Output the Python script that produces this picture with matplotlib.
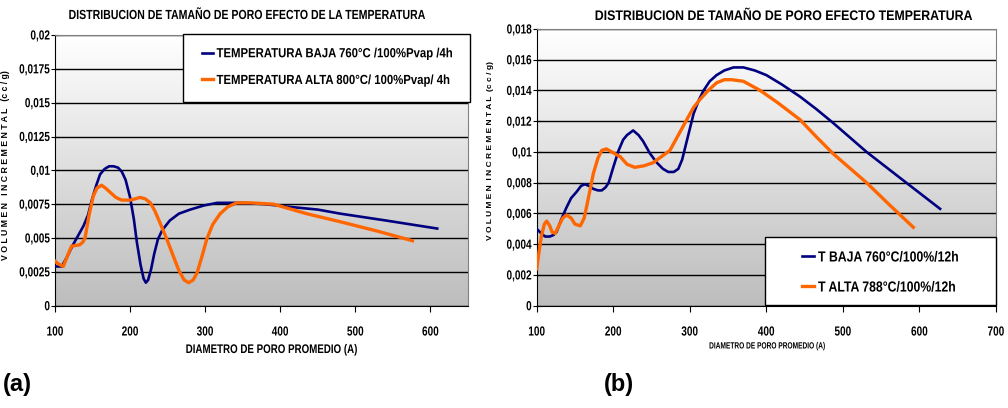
import matplotlib
matplotlib.use("Agg")
import matplotlib.pyplot as plt
import numpy as np
from matplotlib.colors import LinearSegmentedColormap
from matplotlib.ticker import FuncFormatter
from matplotlib.patheffects import AbstractPathEffect
from matplotlib.transforms import Affine2D
from matplotlib.patches import Rectangle

plt.rcParams["font.family"] = ["Liberation Sans", "DejaVu Sans"]
plt.rcParams["font.weight"] = "bold"

# panel (a): 4h
a_baja_x = [100, 109, 116, 124, 131, 138, 144, 149, 155, 160, 166, 172, 178, 184, 189, 194, 200,
            205, 209, 214, 218, 221, 224, 228, 232, 237, 243, 253, 265, 280, 298, 316, 347, 380,
            413, 450, 480, 540, 609]
a_baja_y = [0.0029, 0.0029, 0.0036, 0.0045, 0.0052, 0.0059, 0.0067, 0.0078, 0.0089, 0.0097,
            0.0101, 0.0103, 0.0103, 0.0102, 0.0099, 0.0093, 0.0080, 0.0064, 0.0047, 0.0030,
            0.0020, 0.0017, 0.0019, 0.0027, 0.0038, 0.0049, 0.0056, 0.0063, 0.0068, 0.0071,
            0.0074, 0.0076, 0.0076, 0.0075, 0.0073, 0.0071, 0.0068, 0.0063, 0.0057]
a_alta_x = [100, 104, 111, 116, 122, 133, 137, 140, 145, 151, 156, 162, 167, 173, 181, 189, 200,
            207, 213, 220, 227, 233, 240, 249, 258, 265, 272, 278, 284, 289, 295, 302, 310, 320,
            330, 342, 360, 391, 435, 480, 530, 576]
a_alta_y = [0.0033, 0.0031, 0.0029, 0.0036, 0.0044, 0.0045, 0.0047, 0.0050, 0.0066, 0.0081,
            0.0087, 0.0089, 0.0087, 0.0084, 0.0080, 0.0078, 0.0078, 0.0079, 0.0080, 0.0079,
            0.0076, 0.0070, 0.0061, 0.0049, 0.0036, 0.0026, 0.0019, 0.0017, 0.0019, 0.0024,
            0.0035, 0.0049, 0.0060, 0.0068, 0.0073, 0.0076, 0.0076, 0.0075, 0.0068, 0.0062,
            0.0055, 0.0048]

# panel (b): 12h
b_baja_x = [100, 106, 111, 117, 122, 126, 132, 139, 145, 152, 158, 163, 168, 174, 180, 185, 190,
            194, 200, 207, 213, 218, 226, 233, 239, 248, 257, 265, 272, 279, 285, 290, 294, 300,
            305, 312, 318, 326, 335, 345, 357, 370, 385, 400, 420, 444, 465, 487, 531, 575, 627]
b_baja_y = [0.0050, 0.0047, 0.0045, 0.0045, 0.0046, 0.0048, 0.0056, 0.0064, 0.0070, 0.0074,
            0.0078, 0.0079, 0.0078, 0.0076, 0.0075, 0.0075, 0.0077, 0.0080, 0.0090, 0.0101,
            0.0108, 0.0111, 0.0114, 0.0111, 0.0107, 0.0099, 0.0093, 0.0089, 0.0087, 0.0087,
            0.0089, 0.0095, 0.0103, 0.0115, 0.0125, 0.0134, 0.0140, 0.0146, 0.0150, 0.0153,
            0.0155, 0.0155, 0.0153, 0.0150, 0.0144, 0.0136, 0.0128, 0.0119, 0.0100, 0.0083,
            0.0063]
b_alta_x = [100, 103, 106, 110, 113, 117, 120, 124, 130, 134, 139, 145, 150, 157, 162, 165, 170,
            174, 180, 185, 191, 198, 209, 218, 228, 240, 252, 263, 274, 285, 296, 305, 313, 324,
            335, 345, 355, 370, 392, 415, 444, 465, 487, 531, 560, 592]
b_alta_y = [0.0024, 0.0035, 0.0045, 0.0053, 0.0055, 0.0052, 0.0048, 0.0047, 0.0053, 0.0057,
            0.0059, 0.0057, 0.0053, 0.0052, 0.0057, 0.0064, 0.0076, 0.0086, 0.0096, 0.0101,
            0.0102, 0.0100, 0.0097, 0.0092, 0.0090, 0.0091, 0.0093, 0.0097, 0.0101, 0.0111,
            0.0121, 0.0129, 0.0134, 0.0140, 0.0145, 0.0147, 0.0147, 0.0146, 0.0140, 0.0132,
            0.0121, 0.0110, 0.0099, 0.0080, 0.0066, 0.0051]

NAVY = "#000080"
ORANGE = "#ff6600"
grad = LinearSegmentedColormap.from_list("g", ["#bdbdbd", "#ffffff"])
W, H = 1008, 408


class Condense(AbstractPathEffect):
    # squeeze text horizontally, like the narrow font of the original
    def __init__(self, sx, anchor="center"):
        super().__init__()
        self.sx = sx
        self.anchor = anchor

    def draw_path(self, renderer, gc, tpath, affine, rgbFace=None):
        ext = tpath.get_extents(affine)
        x0 = {"center": (ext.x0 + ext.x1) / 2, "left": ext.x0, "right": ext.x1}[self.anchor]
        t = affine + Affine2D().translate(-x0, 0).scale(self.sx, 1).translate(x0, 0)
        renderer.draw_path(gc, tpath, t, rgbFace)


def comma(v, pos):
    return f"{v:g}".replace(".", ",")


def setup(ax, xmax, xlast, ymax, ystep):
    ax.imshow(np.linspace(0, 1, 256).reshape(-1, 1), extent=[0, 1, 0, 1], transform=ax.transAxes,
              cmap=grad, aspect="auto", origin="lower", zorder=0)
    ax.set_xlim(100, xmax)
    ax.set_ylim(0, ymax)
    ax.set_xticks(range(100, xlast + 1, 100))
    ax.set_yticks(np.arange(0, ymax + ystep / 2, ystep))
    ax.yaxis.set_major_formatter(FuncFormatter(comma))
    ax.grid(axis="y", color="black", linewidth=1.0, zorder=1)
    ax.set_axisbelow(True)
    for s in ["top", "right"]:
        ax.spines[s].set_color("#808080")
    ax.tick_params(axis="x", direction="out", length=4, labelsize=9.5, pad=11)
    ax.tick_params(axis="y", direction="inout", length=6, labelsize=9.5, pad=0.5)
    for lab in ax.get_xticklabels():
        lab.set_path_effects([Condense(0.76, "center")])
    for lab in ax.get_yticklabels():
        lab.set_path_effects([Condense(0.76, "right")])


def legend(ax, box, hx, yc, fs, sx):
    x0, y0, x1, y1 = box
    fig.add_artist(Rectangle((x0 / W, 1 - y1 / H), (x1 - x0) / W, (y1 - y0) / H,
                             transform=fig.transFigure, facecolor="white", edgecolor="black",
                             linewidth=1.0, zorder=4))
    leg = fig.legend(handles=ax.get_lines(), loc="center left", bbox_to_anchor=(hx / W, 1 - yc / H),
                     fontsize=fs, handlelength=0.8, handletextpad=0.3, borderpad=0,
                     labelspacing=1.1, frameon=False, borderaxespad=0)
    leg.set_zorder(5)
    for t in leg.get_texts():
        t.set_path_effects([Condense(sx, "left")])


def label(x, y, s, fs, sx, **kw):
    t = fig.text(x / W, 1 - y / H, s, fontsize=fs, ha="center", va="center", **kw)
    t.set_path_effects([Condense(sx, "center")])


fig = plt.figure(figsize=(W / 100, H / 100), dpi=100)

ax1 = fig.add_axes([55 / W, 1 - 305.7 / H, 413 / W, 270.7 / H])
setup(ax1, 650, 600, 0.02, 0.0025)
ax1.plot(a_baja_x, a_baja_y, color=NAVY, lw=1.9, label="TEMPERATURA BAJA 760°C /100%Pvap /4h", zorder=3)
ax1.plot(a_alta_x, a_alta_y, color=ORANGE, lw=2.4, label="TEMPERATURA ALTA 800°C/ 100%Pvap/ 4h", zorder=3)
legend(ax1, (183, 34, 470, 102), 202, 67.5, 9.5, 0.86)
label(272, 350, "DIAMETRO DE PORO PROMEDIO (A)", 9, 0.78)
label(247, 16, "DISTRIBUCION DE TAMAÑO DE PORO EFECTO DE LA TEMPERATURA", 9.5, 0.80)
fig.text(6 / W, 1 - 165 / H, "V O L U M E N   I N C R E M E N T A L   (c c / g)", rotation=90,
         ha="center", va="center", fontsize=6.3)

ax2 = fig.add_axes([536.7 / W, 1 - 305.7 / H, 459.3 / W, 276.7 / H])
setup(ax2, 700, 700, 0.018, 0.002)
ax2.plot(b_baja_x, b_baja_y, color=NAVY, lw=1.9, label="T BAJA 760°C/100%/12h", zorder=3)
ax2.plot(b_alta_x, b_alta_y, color=ORANGE, lw=2.4, label="T ALTA 788°C/100%/12h", zorder=3)
legend(ax2, (765, 237, 996, 305), 802, 272.5, 10.5, 0.84)
label(767, 346, "DIAMETRO DE PORO PROMEDIO (A)", 6.5, 0.73)
label(783, 16, "DISTRIBUCION DE TAMAÑO DE PORO EFECTO TEMPERATURA", 10, 0.89)
fig.text(490 / W, 1 - 150 / H, "V O L U M E N  I N C R E M E N T A L  (c c / g)", rotation=90,
         ha="center", va="center", fontsize=6)

fig.text(3 / W, 1 - 385 / H, "(a)", fontsize=17, va="center")
fig.text(604 / W, 1 - 385 / H, "(b)", fontsize=17, va="center")

fig.savefig("out.png", dpi=100)
